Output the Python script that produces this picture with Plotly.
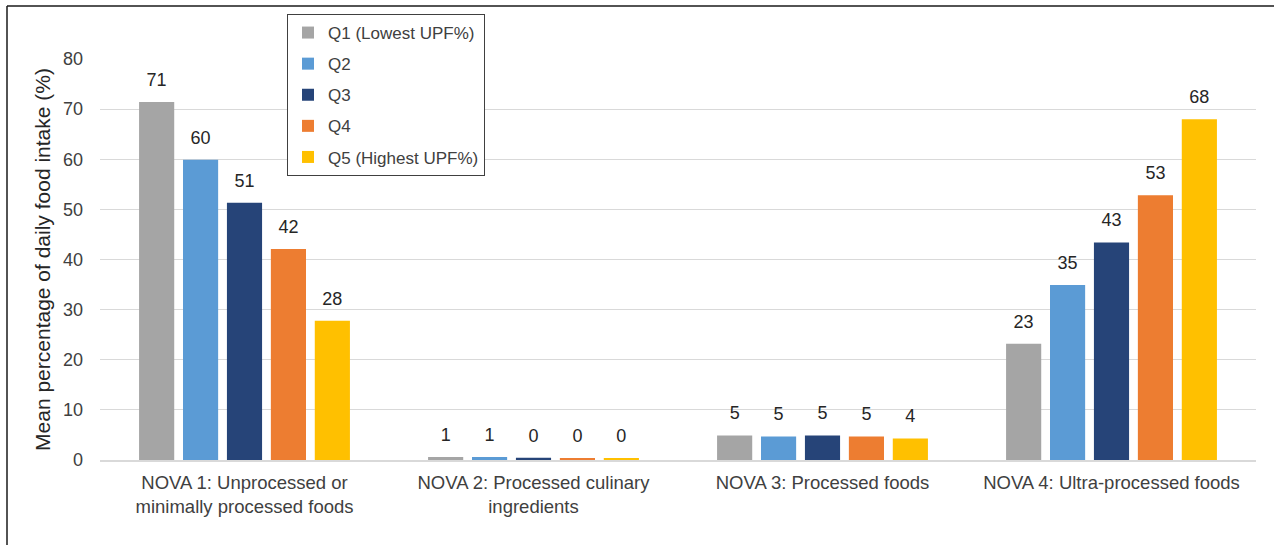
import plotly.graph_objects as go

# Food groups (x categories) and intake quintiles (series)
categories = [
    "NOVA 1: Unprocessed or<br>minimally processed foods",
    "NOVA 2: Processed culinary<br>ingredients",
    "NOVA 3: Processed foods",
    "NOVA 4: Ultra-processed foods",
]
quintiles = ["Q1 (Lowest UPF%)", "Q2", "Q3", "Q4", "Q5 (Highest UPF%)"]

# Mean percentage of daily food intake per quintile
q1 = [71.4, 0.6, 4.9, 23.2]
q2 = [59.9, 0.6, 4.7, 34.9]
q3 = [51.3, 0.45, 4.9, 43.4]
q4 = [42.1, 0.35, 4.7, 52.8]
q5 = [27.8, 0.3, 4.3, 68.0]
series = [q1, q2, q3, q4, q5]

colors = ["#A5A5A5", "#5B9BD5", "#264478", "#ED7D31", "#FFC000"]

FONT = "Liberation Sans, Arial, sans-serif"
TEXT = "#404040"

fig = go.Figure()

for name, vals, col in zip(quintiles, series, colors):
    fig.add_trace(go.Bar(
        x=categories, y=vals, name=name,
        marker=dict(color=col, line=dict(width=0)),
        offsetgroup=name, legendgroup=name,
        hoverinfo="skip",
    ))

# value labels sitting above each bar
for name, vals in zip(quintiles, series):
    fig.add_trace(go.Scatter(
        x=categories, y=vals, mode="markers+text",
        marker=dict(size=17, opacity=0),
        text=[f"{v:.0f}" for v in vals],
        textposition="top center",
        textfont=dict(family=FONT, size=18, color="#262626"),
        offsetgroup=name, showlegend=False, hoverinfo="skip",
        cliponaxis=False,
    ))

# plot-area geometry in pixels, used to place the frame lines
L, R, T, B = 100, 18, 59, 85
W, H = 1274, 545
pw, ph = W - L - R, H - T - B


def px_x(p):
    return (p - L) / pw


def px_y(p):
    return (H - B - p) / ph


fig.update_layout(
    width=W, height=H,
    margin=dict(l=L, r=R, t=T, b=B),
    paper_bgcolor="white", plot_bgcolor="white",
    barmode="group", bargap=0.24, bargroupgap=0.2,
    scattermode="group", scattergap=0.24,
    font=dict(family=FONT, size=18, color=TEXT),
    showlegend=True,
    legend=dict(
        x=px_x(287), y=px_y(14), xanchor="left", yanchor="top",
        bgcolor="white", bordercolor="#404040", borderwidth=1,
        font=dict(family=FONT, size=17, color=TEXT),
        traceorder="grouped", tracegroupgap=6,
    ),
    xaxis=dict(
        showgrid=False, showline=True, linecolor="#d9d9d9", linewidth=1.5,
        ticks="", tickfont=dict(family=FONT, size=18.5, color=TEXT),
        ticklabelstandoff=5,
        fixedrange=True,
    ),
    yaxis=dict(
        range=[0, 80], dtick=10, showgrid=True, gridcolor="#d9d9d9",
        gridwidth=1.3, zeroline=False, showline=False, ticks="",
        tickfont=dict(family=FONT, size=18, color=TEXT),
        ticklabelstandoff=16,
        title=dict(text="Mean percentage of daily food intake (%)",
                   font=dict(family=FONT, size=21, color="#262626"),
                   standoff=6),
        fixedrange=True,
    ),
    shapes=[
        dict(type="line", xref="paper", yref="paper",
             x0=px_x(7), x1=px_x(1274), y0=px_y(6), y1=px_y(6),
             line=dict(color="#1a1a1a", width=1.5)),
        dict(type="line", xref="paper", yref="paper",
             x0=px_x(7), x1=px_x(7), y0=px_y(6), y1=px_y(545),
             line=dict(color="#1a1a1a", width=1.5)),
    ],
)

fig.write_html("out.html")
